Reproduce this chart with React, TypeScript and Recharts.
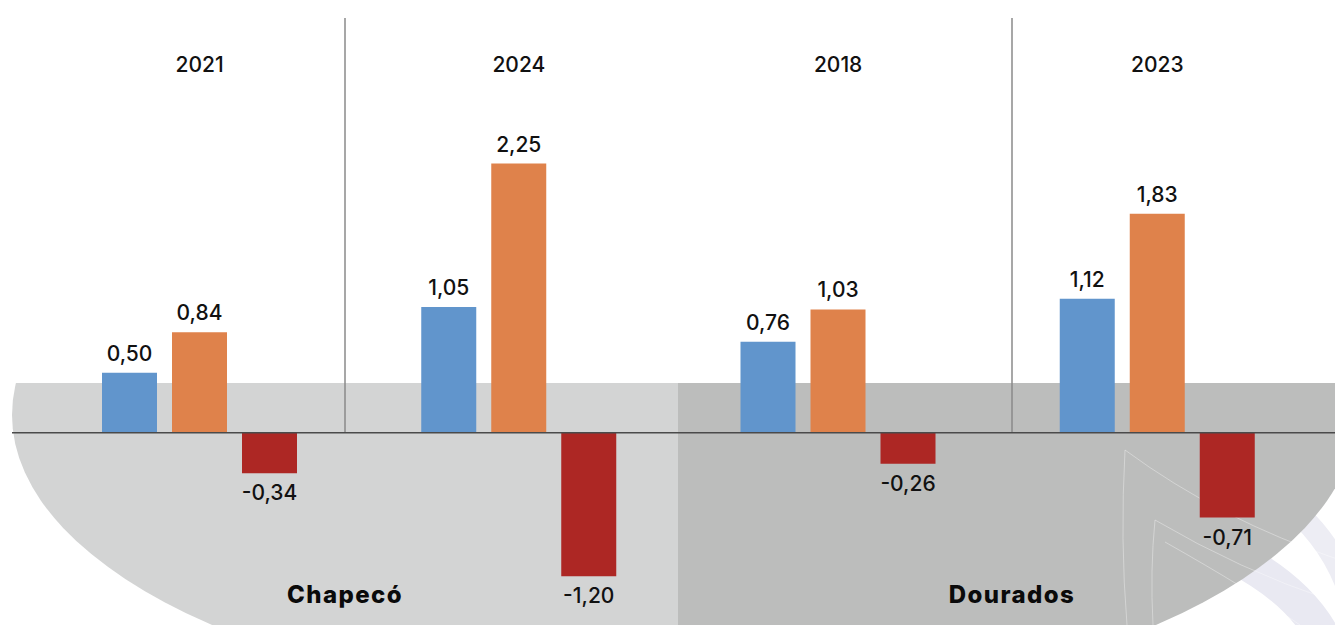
import { BarChart, Bar, XAxis, YAxis, ReferenceLine, LabelList } from 'recharts'

const anos = ['2021', '2024', '2018', '2023']
const cidades = ['Chapecó', 'Dourados']
const azul = [0.5, 1.05, 0.76, 1.12]
const laranja = [0.84, 2.25, 1.03, 1.83]
const vermelho = [-0.34, -1.2, -0.26, -0.71]

const dados = anos.map((ano, i) => ({ ano, azul: azul[i], laranja: laranja[i], vermelho: vermelho[i] }))

const fonte = 'Inter, "Noto Sans", sans-serif'
const fmt = (v: number) => v.toFixed(2).replace('.', ',')

// rótulo acima da barra (ou abaixo, quando negativo)
const Rotulo = (props: any) => {
  const { x, y, width, height, value } = props
  const topo = Math.min(y, y + height)
  const base = Math.max(y, y + height)
  const neg = value < 0
  return (
    <text
      x={x + width / 2}
      y={neg ? base + 27 : topo - 12}
      textAnchor="middle"
      fontFamily={fonte}
      fontSize={21}
      fontWeight={500}
      fill="#111"
    >
      {fmt(value)}
    </text>
  )
}

const TickAno = (props: any) => {
  const { x, payload } = props
  return (
    <text x={x} y={72} textAnchor="middle" fontFamily={fonte} fontSize={21} fontWeight={500} fill="#111">
      {payload.value}
    </text>
  )
}

function Fundo() {
  return (
    <svg width={1335} height={625} style={{ position: 'absolute', left: 0, top: 0 }}>
      <defs>
        <clipPath id="esq">
          <rect x={0} y={383} width={678} height={242} />
        </clipPath>
        <clipPath id="dir">
          <rect x={678} y={383} width={657} height={242} />
        </clipPath>
      </defs>
      {/* marca d'água lilás no canto */}
      <path d="M1170 530 Q1290 570 1325 640" stroke="#e9e9f2" strokeWidth={34} fill="none" />
      <path d="M1230 470 Q1345 520 1360 640" stroke="#ededf4" strokeWidth={22} fill="none" />
      <ellipse cx={684} cy={415} rx={672} ry={295} fill="#d3d4d4" clipPath="url(#esq)" />
      <ellipse cx={684} cy={415} rx={672} ry={295} fill="#bcbdbc" clipPath="url(#dir)" />
      <g stroke="#ffffff" strokeOpacity={0.35} fill="none" strokeWidth={1}>
        <path d="M1125 450 Q1220 520 1340 560" />
        <path d="M1125 450 Q1120 540 1127 625" />
        <path d="M1155 520 Q1240 570 1330 600" />
        <path d="M1155 520 Q1150 570 1153 625" />
        <path d="M1165 542 Q1250 590 1300 625" />
      </g>
      <line x1={345} y1={18} x2={345} y2={433} stroke="#8a8a8a" strokeWidth={1.5} />
      <line x1={1012} y1={18} x2={1012} y2={433} stroke="#8a8a8a" strokeWidth={1.5} />
      {cidades.map((c, i) => (
        <text
          key={c}
          x={i === 0 ? 345 : 1012}
          y={603}
          textAnchor="middle"
          fontFamily={fonte}
          fontSize={24}
          fontWeight={800}
          letterSpacing={1.4}
          fill="#0a0a0a"
        >
          {c}
        </text>
      ))}
    </svg>
  )
}

export default function App() {
  return (
    <div style={{ position: 'absolute', left: 0, top: 0, width: 1335, height: 625, background: '#fff' }}>
      <Fundo />
      <div style={{ position: 'absolute', left: 0, top: 0 }}>
        <BarChart
          width={1335}
          height={625}
          data={dados}
          margin={{ top: 0, right: 0, bottom: 1, left: 12 }}
          barSize={55}
          barGap={15}
        >
          <XAxis
            dataKey="ano"
            orientation="top"
            height={26}
            axisLine={false}
            tickLine={false}
            padding={{ left: 28, right: 18 }}
            tick={<TickAno />}
          />
          <YAxis hide domain={[-1.6, 3.4]} />
          <ReferenceLine y={0} stroke="#4a4a4a" strokeWidth={1.5} />
          <Bar dataKey="azul" fill="#6195cc" isAnimationActive={false}>
            <LabelList dataKey="azul" content={<Rotulo />} />
          </Bar>
          <Bar dataKey="laranja" fill="#df824b" isAnimationActive={false}>
            <LabelList dataKey="laranja" content={<Rotulo />} />
          </Bar>
          <Bar dataKey="vermelho" fill="#ad2724" isAnimationActive={false}>
            <LabelList dataKey="vermelho" content={<Rotulo />} />
          </Bar>
        </BarChart>
      </div>
    </div>
  )
}
